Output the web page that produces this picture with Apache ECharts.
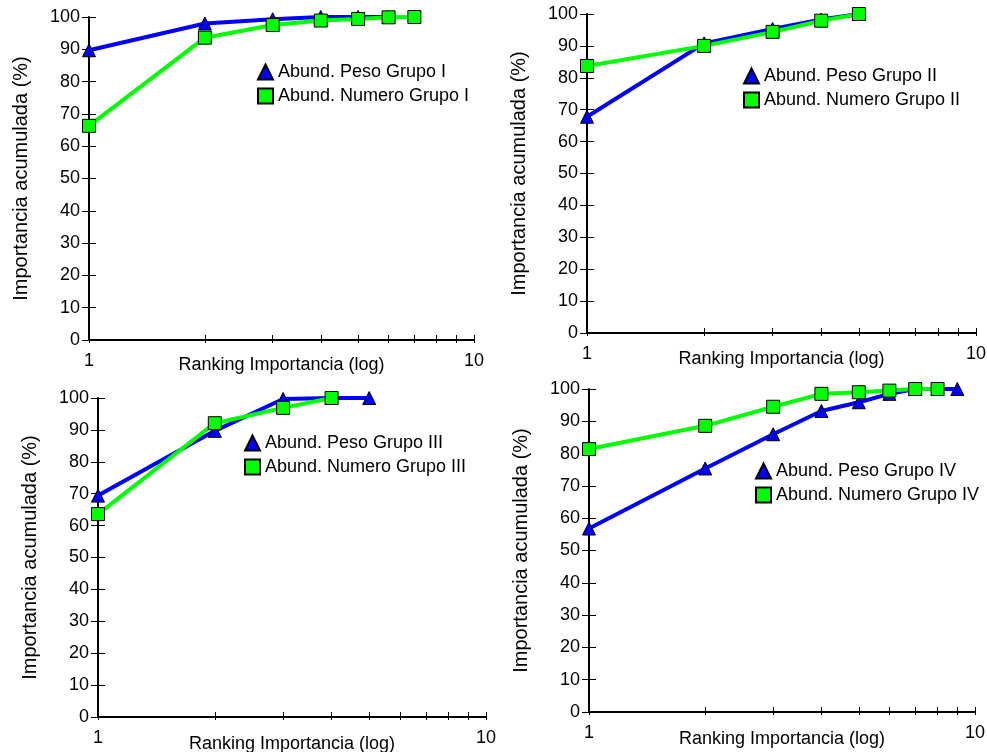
<!DOCTYPE html>
<html>
<head>
<meta charset="utf-8">
<script src="https://cdn.jsdelivr.net/npm/echarts@6/dist/echarts.min.js"></script>
<style>
html,body{margin:0;padding:0;background:#fff;}
#c{width:987px;height:752px;}
</style>
</head>
<body>
<div id="c"></div>
<script>
// ---- data ----
const ranks = [1, 2, 3, 4, 5, 6, 7, 8, 9];
const pesoI = [89.7, 98, 99.3, 100, 100, 100];
const numeroI = [66.3, 93.6, 97.5, 98.9, 99.4, 99.9, 100];
const pesoII = [67.8, 90.8, 95.3, 98.3, 100];
const numeroII = [83.7, 90, 94.4, 97.9, 100];
const pesoIII = [69.4, 89.7, 99.7, 100, 100];
const numeroIII = [63.6, 92.1, 96.9, 100];
const pesoIV = [56.8, 75.4, 86, 93.2, 95.9, 98.5, 100, 100, 100];
const numeroIV = [81.4, 88.6, 94.5, 98.5, 99, 99.5, 100, 100];
const groupNames = ['I', 'II', 'III', 'IV'];
const xTickValues = [1, 2, 3, 4, 5, 6, 7, 8, 9, 10];
const xLabelValues = [1, 10];
const yTitle = 'Importancia acumulada (%)';
const xTitle = 'Ranking Importancia (log)';

const pesoSets = [pesoI, pesoII, pesoIII, pesoIV];
const numeroSets = [numeroI, numeroII, numeroIII, numeroIV];

// ---- layout ----
const grids = [
  {left: 89, top: 17, width: 385, height: 323},
  {left: 587, top: 14, width: 389, height: 319},
  {left: 98, top: 398, width: 388, height: 319},
  {left: 589, top: 389, width: 386, height: 323}
];
const xNameGaps = [16, 17, 18, 18];
const legendPos = [
  {left: 252, top: 58},
  {left: 738, top: 62},
  {left: 239, top: 429},
  {left: 750, top: 457}
];
const FONT = '"Liberation Sans", Arial, sans-serif';
const BLUE = '#0000ff';
const GREEN = '#00ff00';

const option = {
  backgroundColor: '#ffffff',
  animation: false,
  textStyle: {fontFamily: FONT, color: '#000'},
  grid: grids.map(g => Object.assign({containLabel: false, outerBoundsMode: 'none'}, g)),
  xAxis: [],
  yAxis: [],
  legend: [],
  series: []
};

grids.forEach((g, i) => {
  // main x axis (outside ticks + labels)
  option.xAxis.push({
    type: 'log', logBase: 10, min: 1, max: 10, gridIndex: i,
    name: xTitle, nameLocation: 'middle', nameGap: xNameGaps[i], nameMoveOverlap: false,
    nameTextStyle: {fontSize: 18, color: '#000', fontFamily: FONT, verticalAlign: 'top'},
    axisLine: {show: true, lineStyle: {color: '#000', width: 2}},
    axisTick: {show: true, length: 3, inside: false, customValues: xTickValues, lineStyle: {color: '#000', width: 1}},
    axisLabel: {show: true, margin: 12, fontSize: 18, color: '#000', fontFamily: FONT, customValues: xLabelValues},
    splitLine: {show: false},
    minorTick: {show: false}
  });
  // companion x axis for inside ticks
  option.xAxis.push({
    type: 'log', logBase: 10, min: 1, max: 10, gridIndex: i, position: 'bottom',
    axisLine: {show: false},
    axisTick: {show: true, length: 5, inside: true, customValues: xTickValues, lineStyle: {color: '#000', width: 1}},
    axisLabel: {show: false},
    splitLine: {show: false}
  });
  option.yAxis.push({
    type: 'value', min: 0, max: 100, interval: 10, gridIndex: i,
    name: yTitle, nameLocation: 'middle', nameGap: 58, nameMoveOverlap: false,
    nameTextStyle: {fontSize: 20, color: '#000', fontFamily: FONT},
    axisLine: {show: true, lineStyle: {color: '#000', width: 2}},
    axisTick: {show: true, length: 7, inside: false, lineStyle: {color: '#000', width: 1}},
    axisLabel: {show: true, margin: 9, fontSize: 18, color: '#000', fontFamily: FONT},
    splitLine: {show: false}
  });
  option.yAxis.push({
    type: 'value', min: 0, max: 100, interval: 10, gridIndex: i, position: 'left',
    axisLine: {show: false},
    axisTick: {show: true, length: 7, inside: true, lineStyle: {color: '#000', width: 1}},
    axisLabel: {show: false},
    splitLine: {show: false}
  });

  const pName = 'Abund. Peso Grupo ' + groupNames[i];
  const nName = 'Abund. Numero Grupo ' + groupNames[i];
  const peso = pesoSets[i];
  const num = numeroSets[i];

  option.series.push({
    name: pName, type: 'line', xAxisIndex: i * 2, yAxisIndex: i * 2,
    data: peso.map((v, k) => [ranks[k], v]),
    symbol: 'triangle', symbolSize: 13,
    lineStyle: {color: BLUE, width: 4},
    itemStyle: {color: BLUE, borderColor: '#000', borderWidth: 1},
    z: 2
  });
  option.series.push({
    name: nName, type: 'line', xAxisIndex: i * 2, yAxisIndex: i * 2,
    data: num.map((v, k) => [ranks[k], v]),
    symbol: 'rect', symbolSize: 13,
    lineStyle: {color: GREEN, width: 4},
    itemStyle: {color: GREEN, borderColor: '#000', borderWidth: 1},
    z: 3
  });

  option.legend.push({
    data: [{name: pName, icon: 'triangle'}, {name: nName, icon: 'rect'}],
    orient: 'vertical', left: legendPos[i].left, top: legendPos[i].top,
    itemWidth: 15, itemHeight: 15, itemGap: 6,
    textStyle: {fontSize: 18, color: '#000', fontFamily: FONT},
    selectedMode: false
  });
});

const chart = echarts.init(document.getElementById('c'), null, {renderer: 'canvas'});
chart.setOption(option);
</script>
</body>
</html>
